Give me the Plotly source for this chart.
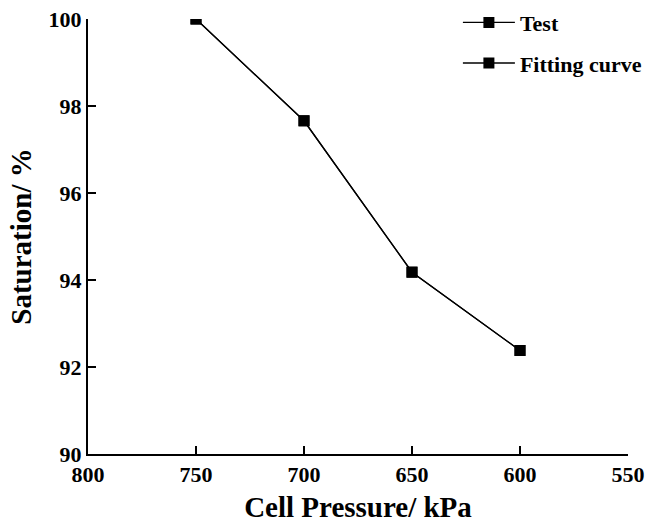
import plotly.graph_objects as go

pressure = [750, 700, 650, 600]
test_saturation = [100.0, 97.66, 94.18, 92.38]
fit_saturation = [100.0, 97.66, 94.18, 92.38]
x_ticks = [800, 750, 700, 650, 600, 550]
y_ticks = [90, 92, 94, 96, 98, 100]

FONT = "Liberation Serif"

fig = go.Figure()
fig.add_trace(go.Scatter(
    x=pressure, y=test_saturation, name="Test", mode="lines+markers",
    line=dict(color="black", width=1.3),
    marker=dict(symbol="square", size=11, color="black"),
    legendgroup="a",
))
fig.add_trace(go.Scatter(
    x=pressure, y=fit_saturation, name="Fitting curve", mode="lines+markers",
    line=dict(color="black", width=1.3),
    marker=dict(symbol="square", size=11, color="black"),
    legendgroup="b",
))

axis_common = dict(
    showline=True, linecolor="black", linewidth=2,
    ticks="inside", ticklen=8, tickwidth=2, tickcolor="black",
    showgrid=False, zeroline=False, mirror=False, automargin=False,
    tickfont=dict(family=FONT, size=22, color="black", weight="bold"),
)

fig.update_layout(
    width=661, height=524,
    margin=dict(l=88, r=33, t=19, b=70, autoexpand=False),
    paper_bgcolor="white", plot_bgcolor="white",
    font=dict(family=FONT, color="black"),
    xaxis=dict(
        range=[800, 550], tickvals=x_ticks,
        title=dict(text="Cell Pressure/ kPa", font=dict(family=FONT, size=29, weight="bold"), standoff=10),
        **axis_common,
    ),
    yaxis=dict(
        range=[90, 100], tickvals=y_ticks,
        title=dict(text="Saturation/ %", font=dict(family=FONT, size=29, weight="bold"), standoff=8),
        **axis_common,
    ),
    legend=dict(
        x=0.685, y=1.04, xanchor="left", yanchor="top",
        font=dict(family=FONT, size=22, color="black", weight="bold"),
        bgcolor="rgba(0,0,0,0)", tracegroupgap=9, itemwidth=52,
    ),
)

fig.write_html("out.html")
